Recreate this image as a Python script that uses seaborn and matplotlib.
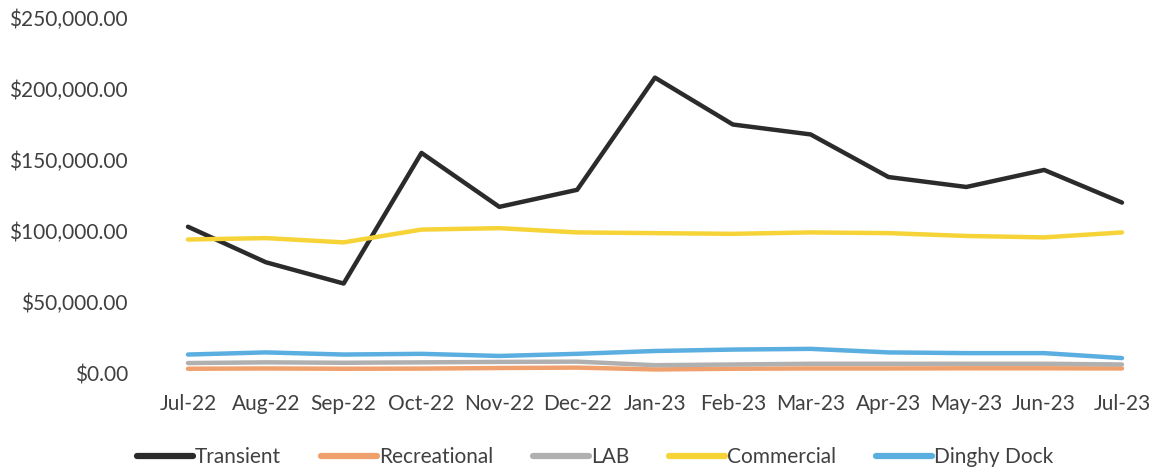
import matplotlib
matplotlib.use("Agg")
import matplotlib.pyplot as plt
import seaborn as sns
import pandas as pd
from matplotlib.ticker import FuncFormatter

months = ["Jul-22", "Aug-22", "Sep-22", "Oct-22", "Nov-22", "Dec-22", "Jan-23",
          "Feb-23", "Mar-23", "Apr-23", "May-23", "Jun-23", "Jul-23"]
transient = [103000, 78000, 63000, 155000, 117000, 129000, 208000,
             175000, 168000, 138000, 131000, 143000, 120000]
recreational = [3000, 3200, 3000, 3100, 3500, 3800, 2500,
                3000, 3200, 3200, 3300, 3300, 3200]
lab = [7000, 7500, 7200, 7500, 7800, 8000, 5500,
       6000, 6500, 6500, 6500, 6500, 6000]
commercial = [94000, 95000, 92000, 101000, 102000, 99000, 98500,
              98000, 99000, 98500, 96500, 95500, 99000]
dinghy = [13000, 14500, 13000, 13500, 12000, 13500, 15500,
          16500, 17000, 14500, 14000, 14000, 10500]

series_names = ["Transient", "Recreational", "LAB", "Commercial", "Dinghy Dock"]
series_vals = [transient, recreational, lab, commercial, dinghy]
colors = ["#2b2b2b", "#f0a06c", "#b0b0b0", "#f6d337", "#5aaee0"]

rows = []
for name, vals in zip(series_names, series_vals):
    for i, (m, v) in enumerate(zip(months, vals)):
        rows.append({"idx": i, "Month": m, "Value": v, "Series": name})
df = pd.DataFrame(rows)

sns.set_theme(style="white")
plt.rcParams["font.family"] = ["Lato", "DejaVu Sans"]

fig = plt.figure(figsize=(11.57, 4.71), dpi=100)
ax = fig.add_axes([150/1157, (471-373)/471, (1157-150)/1157, (373-18)/471])

sns.lineplot(data=df, x="idx", y="Value", hue="Series", hue_order=series_names,
             palette=dict(zip(series_names, colors)), linewidth=3.2, ax=ax,
             legend=True)

ax.set_xlim(-0.488, 12.45)
ax.set_ylim(0, 250000)
ax.set_xticks(range(len(months)))
ax.set_xticklabels(months, fontsize=15, color="#404040")
ax.set_yticks([0, 50000, 100000, 150000, 200000, 250000])
ax.yaxis.set_major_formatter(FuncFormatter(lambda v, p: f"${v:,.2f}"))
ax.tick_params(axis="y", labelsize=15, labelcolor="#404040", length=0, pad=16)
ax.tick_params(axis="x", length=0, pad=15)
ax.set_xlabel("")
ax.set_ylabel("")
for s in ax.spines.values():
    s.set_visible(False)
ax.grid(False)

handles, labels = ax.get_legend_handles_labels()
for h in handles:
    h.set_linewidth(4.5)
ax.legend(handles, labels, loc="center", bbox_to_anchor=(0.442, -0.237),
          ncol=5, frameon=False, fontsize=15, handlelength=2.7,
          handletextpad=0.1, columnspacing=1.9, labelcolor="#404040")

fig.savefig("out.png", dpi=100)
